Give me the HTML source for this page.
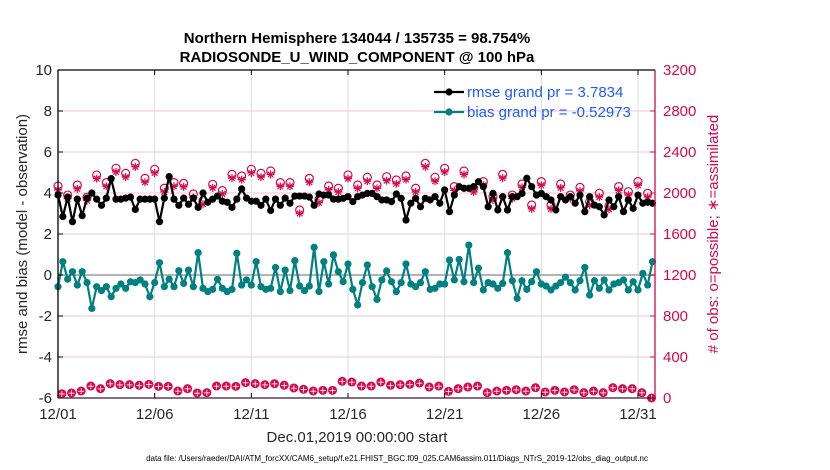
<!DOCTYPE html>
<html><head><meta charset="utf-8">
<style>
html,body{margin:0;padding:0;background:#fff;}
svg{display:block;font-family:"Liberation Sans",Arial,sans-serif;}
</style></head>
<body>
<svg id="chart" width="830" height="470" viewBox="0 0 830 470" xmlns="http://www.w3.org/2000/svg">
<g id="grid"></g>
<g id="series"></g>
<g id="axes"></g>
<text x="357" y="43" text-anchor="middle" font-size="15" font-weight="bold">Northern Hemisphere 134044 / 135735 = 98.754%</text>
<text x="357" y="62" text-anchor="middle" font-size="15" font-weight="bold">RADIOSONDE_U_WIND_COMPONENT @ 100 hPa</text>
<text x="357" y="442" text-anchor="middle" font-size="15" fill="#262626">Dec.01,2019 00:00:00 start</text>
<text x="397" y="461" text-anchor="middle" font-size="8" fill="#000">data file: /Users/raeder/DAI/ATM_forcXX/CAM6_setup/f.e21.FHIST_BGC.f09_025.CAM6assim.011/Diags_NTrS_2019-12/obs_diag_output.nc</text>
<text transform="translate(27,234) rotate(-90)" text-anchor="middle" font-size="15" fill="#262626">rmse and bias (model - observation)</text>
<text transform="translate(718,234) rotate(-90)" text-anchor="middle" font-size="15" fill="#d6094f"># of obs: o=possible; ∗=assimilated</text>
<g id="legend"></g>
</svg>
<script>
const xTickLabels = ["12/01","12/06","12/11","12/16","12/21","12/26","12/31"];
const xTickDays = [0,5,10,15,20,25,30];
const yLeftTicks = [-6,-4,-2,0,2,4,6,8,10];
const yRightTicks = [0,400,800,1200,1600,2000,2400,2800,3200];
const rmse = [3.9,2.85,3.8,2.6,3.7,2.9,3.75,4.0,3.7,3.4,3.75,4.7,3.7,3.7,3.75,3.8,3.2,3.7,3.7,3.7,
3.7,2.6,3.75,4.8,3.7,3.4,3.75,3.45,3.75,3.3,4.0,3.55,3.7,3.85,3.6,3.55,3.3,3.7,4.2,3.75,
3.6,3.6,3.4,3.7,3.15,3.7,3.4,3.75,3.5,3.85,3.85,3.85,3.8,3.4,3.95,3.9,3.9,3.7,
3.7,3.74,3.82,3.58,3.82,3.9,3.98,3.98,3.82,3.66,3.66,3.58,3.95,3.74,2.68,3.5,3.74,3.33,3.74,3.66,3.82,3.5,4.15,3.09,3.9,4.31,4.23,4.23,4.31,4.55,4.31,3.33,3.98,3.17,3.82,3.17,3.82,3.82,3.98,4.72,4.31,3.9,3.98,3.82,3.66,3.17,3.82,3.66,3.82,3.5,3.9,3.09,3.82,3.41,3.33,2.93,3.66,3.33,3.82,3.09,3.66,3.25,3.9,3.5,3.55,3.5];
const bias = [-0.57,0.65,-0.2,0.16,-0.49,0.16,-0.37,-1.63,-0.57,-0.76,-0.57,-1.06,-0.65,-0.44,-0.65,-0.33,-0.37,-0.24,-0.44,-1.06,-0.37,0.6,-0.57,-0.2,-0.57,0.21,-0.41,0.24,-0.57,1.09,-0.65,-0.81,-0.7,-0.21,-0.65,-0.81,-0.7,1.06,-0.49,-0.24,-0.49,0.65,-0.57,-0.7,-0.65,0.37,-0.81,0.24,-0.76,0.7,-0.54,-0.76,-0.54,1.35,-0.81,0.65,-0.44,0.98,
0.16,-0.33,0.54,-0.7,-1.46,-0.37,0.49,-0.57,-1.19,-0.24,0.2,-0.33,-0.81,-0.37,0.54,-0.44,-0.57,-0.37,0.16,-0.7,-0.65,-0.44,-0.44,0.73,-0.24,0.76,-0.33,1.46,-0.37,0.33,-0.73,-0.37,-0.44,-0.65,-0.41,1.09,-0.28,-1.14,-0.28,-0.7,-0.33,0.16,-0.44,-0.54,-0.73,-0.54,-0.37,-0.11,-0.37,-0.73,-0.28,0.37,-0.98,-0.28,-0.65,-0.24,-0.73,-0.44,-0.37,-0.24,-0.73,-0.33,-0.73,0.08,-0.49,0.65];
const possibleHigh = [2068,1980,2078,1958,2176,2101,2241,2192,2289,2143,2231,2046,2101,2094,1990,1925,2085,2023,2182,2166,2231,2192,2215,2101,2101,1834,2143,1938,2068,2046,2176,2078,2153,2078,2159,2127,2166,2046,2289,2153,2241,2062,2215,2046,2111,1964,2182,1980,2088,1883,2111,1883,2088,1980,2055,1915,1997,1873,2062,2013,2111,1997];
const assimHigh = [2030,1945,2040,1925,2140,2065,2205,2155,2255,2105,2195,2010,2065,2060,1955,1890,2050,1990,2145,2130,2195,2155,2180,2065,2065,1800,2105,1905,2030,2010,2140,2045,2115,2045,2120,2090,2130,2010,2255,2115,2205,2025,2180,2010,2075,1930,2145,1945,2055,1845,2075,1845,2050,1945,2020,1880,1960,1840,2025,1980,2075,1960];
const possibleLow = [42,49,68,117,91,140,130,130,124,133,114,114,68,91,49,52,117,117,114,150,140,130,140,124,98,85,68,75,75,163,156,117,117,156,124,130,133,146,107,117,65,91,107,117,52,68,75,81,68,101,59,75,59,81,52,68,52,101,91,91,52,0];
const assimLow = [40,47,66,115,89,138,128,128,122,131,112,112,66,89,47,50,115,115,112,148,138,128,138,122,96,83,66,73,73,161,154,115,115,154,122,128,131,144,105,115,63,89,105,115,50,66,73,79,66,99,57,73,57,79,50,66,50,99,89,89,50,0];

const NS='http://www.w3.org/2000/svg';
const PL=58, PR=655, PT=70, PB=398, XMAX=30.88;
const xs=d=>PL+(PR-PL)*d/XMAX;
const yL=v=>PB-(PB-PT)*(v+6)/16;
const yR=v=>PB-(PB-PT)*v/3200;
function mk(tag,attrs,parent){const e=document.createElementNS(NS,tag);for(const k in attrs)e.setAttribute(k,attrs[k]);parent.appendChild(e);return e;}
const grid=document.getElementById('grid'),ser=document.getElementById('series'),axes=document.getElementById('axes'),leg=document.getElementById('legend');
const MAG='#d6094f', TEAL='#008080';

yLeftTicks.forEach(v=>{const y=yL(v);
 const g=mk('line',{x1:PL,x2:PR,y1:y,y2:y,stroke:'#f2c6d6','stroke-width':1},grid);
 
 
 const t=mk('text',{x:PL-6,y:y+5,'text-anchor':'end','font-size':15,fill:'#262626'},axes);t.textContent=v;
 
 
 mk('line',{x1:PL,x2:PL+5,y1:y,y2:y,stroke:'#000'},axes);
});
yRightTicks.forEach(v=>{const y=yR(v);
 const t=mk('text',{x:PR+8,y:y+5,'font-size':15,fill:MAG},axes);t.textContent=v;
 
 
 mk('line',{x1:PR-5,x2:PR,y1:y,y2:y,stroke:MAG},axes);
});
xTickDays.forEach((d,i)=>{const x=xs(d);
 if(i>0){const g=mk('line',{x1:x,x2:x,y1:PT,y2:PB,stroke:'#dcdcdc','stroke-width':1},grid);
 
 }
 mk('line',{x1:x,x2:x,y1:PB,y2:PB-5,stroke:'#000'},axes);
 mk('line',{x1:x,x2:x,y1:PT,y2:PT+5,stroke:'#000'},axes);
 const t=mk('text',{x:x,y:419,'text-anchor':'middle','font-size':15,fill:'#262626'},axes);t.textContent=xTickLabels[i];
 
 
});
const zl=mk('line',{x1:PL,x2:PR,y1:yL(0),y2:yL(0),stroke:'#b4b4b4','stroke-width':2},grid);



function star(x,y,r,parent,name){const g=mk('g',{stroke:MAG,'stroke-width':1.2},parent);
 
 
 for(let a=0;a<4;a++){const an=a*Math.PI/4;mk('line',{x1:x-r*Math.cos(an),y1:y-r*Math.sin(an),x2:x+r*Math.cos(an),y2:y+r*Math.sin(an)},g);} }
function circ(x,y,parent,name){const c=mk('circle',{cx:x,cy:y,r:4,fill:'none',stroke:MAG,'stroke-width':1.2},parent);
 
 }
possibleHigh.forEach((v,i)=>circ(xs(i*0.5),yR(v),ser,'possible-obs-marker'));
assimHigh.forEach((v,i)=>star(xs(i*0.5),yR(v),4,ser,'assimilated-obs-marker'));
possibleLow.forEach((v,i)=>{const c=mk('circle',{cx:xs(0.2+i*0.5),cy:yR(v),r:4,fill:MAG,stroke:MAG},ser);
 
 });
assimLow.forEach((v,i)=>{const g=mk('g',{stroke:'#fff','stroke-width':0.8},ser);
 
 
 const x=xs(0.2+i*0.5),y=yR(v);mk('line',{x1:x-3,x2:x+3,y1:y,y2:y},g);mk('line',{x1:x,x2:x,y1:y-3,y2:y+3},g);});

function series(arr,color,name){
 const pts=arr.map((v,i)=>xs(i*0.25)+','+yL(v)).join(' ');
 const p=mk('polyline',{points:pts,fill:'none',stroke:color,'stroke-width':2.2},ser);
 
 
 arr.forEach((v,i)=>{const c=mk('circle',{cx:xs(i*0.25),cy:yL(v),r:3.6,fill:color},ser);
  
  });
}
series(bias,TEAL,'bias');
series(rmse,'#000','rmse');

mk('line',{x1:PL,x2:PR,y1:PB,y2:PB,stroke:'#3a1a2a','stroke-width':1.3},axes);
mk('line',{x1:PL,x2:PR,y1:PT,y2:PT,stroke:'#000','stroke-width':1.3},axes);
mk('line',{x1:PL,x2:PL,y1:PT,y2:PB,stroke:'#000','stroke-width':1.3},axes);
mk('line',{x1:PR,x2:PR,y1:PT,y2:PB,stroke:MAG,'stroke-width':1.3},axes);

[['rmse grand pr = 3.7834','#000',92,'legend-entry-rmse'],['bias grand pr = -0.52973',TEAL,112,'legend-entry-bias']].forEach(([txt,col,y,nm])=>{
 const g=mk('g',{},leg);
 
 
 mk('line',{x1:434,x2:464,y1:y,y2:y,stroke:col,'stroke-width':2.2},g);
 mk('circle',{cx:449,cy:y,r:3.6,fill:col},g);
 const t=mk('text',{x:467,y:y+5,'font-size':15,fill:'#1f5cff'},g);t.textContent=txt;
});
</script>
</body></html>
